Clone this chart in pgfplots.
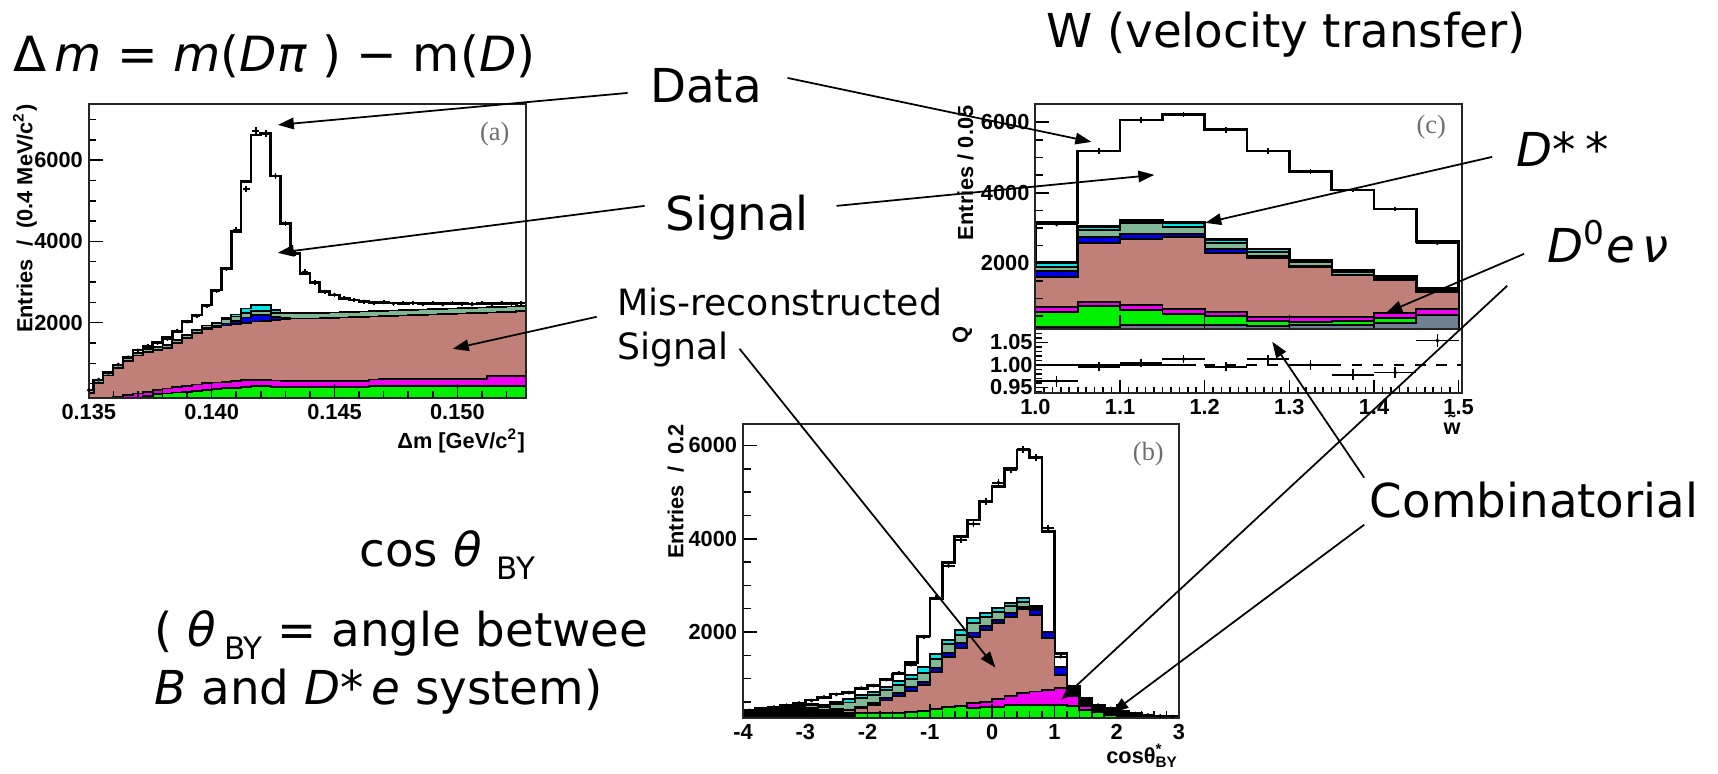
\documentclass[border=0pt]{standalone}
\usepackage{fontspec}
\setmainfont{DejaVu Sans}
\newfontfamily\rootfont{Liberation Sans}
\newfontfamily\rootserif{Liberation Serif}
\usepackage{pgfplots}
\pgfplotsset{compat=1.18}
\usepackage{pgfplotstable}
\usetikzlibrary{arrows.meta}

\definecolor{cbrown}{RGB}{192,128,120}
\definecolor{cgreen}{RGB}{0,240,0}
\definecolor{cmag}{RGB}{240,0,240}
\definecolor{cblue}{RGB}{0,0,230}
\definecolor{ccyan}{RGB}{0,230,230}
\definecolor{csea}{RGB}{128,184,150}
\definecolor{cslate}{RGB}{112,128,144}
\definecolor{clab}{RGB}{110,110,110}

\newcommand\anno{\fontsize{13.3}{16}\selectfont}
\newcommand\annob{\fontsize{13.8}{16}\selectfont}
\newcommand\annos{\fontsize{10.3}{12}\selectfont}
\newcommand\rt{\rootfont\bfseries\fontsize{6.2}{7.5}\selectfont}

% panel (a): x in units of 0.001 GeV/c^2, left bin edges
\pgfplotstableread{
x t c s bl b m g d
134.8 344 344 344 274 274 0 0 340
135.2 590 590 590 520 520 0 0 600
135.6 771 771 771 701 701 0 0 760
136.0 959 950 950 880 880 170 0 970
136.4 1140 1120 1120 1050 1050 220 0 1150
136.8 1328 1260 1260 1190 1190 260 150 1320
137.2 1410 1350 1350 1280 1280 300 200 1430
137.6 1509 1400 1400 1330 1330 340 240 1500
138.0 1640 1451 1451 1381 1381 380 260 1600
138.4 1779 1574 1574 1504 1504 420 280 1800
138.8 2025 1697 1697 1627 1627 450 300 2025
139.2 2189 1820 1820 1750 1750 480 320 2165
139.6 2435 1930 1930 1860 1840 510 350 2410
140.0 2804 1990 1990 1920 1890 530 370 2780
140.4 3337 2110 2080 1980 1930 550 385 3321
140.8 4239 2200 2150 2050 1970 570 400 4280
141.2 5469 2350 2230 2130 2000 585 420 5281
141.6 6617 2430 2280 2180 2030 590 440 6724
142.0 6658 2440 2290 2190 2050 590 440 6658
142.4 5609 2320 2240 2140 2070 580 420 5609
142.8 4444 2250 2240 2110 2090 570 410 4444
143.2 3706 2230 2230 2100 2100 570 410 3706
143.6 3214 2230 2230 2100 2100 570 410 3256
144.0 2985 2230 2230 2100 2100 570 410 2990
144.4 2763 2240 2240 2110 2110 570 410 2760
144.8 2681 2250 2250 2120 2120 570 410 2690
145.2 2599 2260 2260 2130 2130 570 410 2610
145.6 2558 2268 2268 2138 2138 570 410 2560
146.0 2517 2276 2276 2146 2146 570 410 2520
146.4 2495 2284 2284 2154 2154 600 439 2480
146.8 2490 2292 2292 2162 2162 623 439 2500
147.2 2480 2300 2300 2170 2170 623 439 2470
147.6 2475 2308 2308 2178 2178 623 439 2480
148.0 2480 2316 2316 2186 2186 623 439 2490
148.4 2470 2324 2324 2194 2194 623 439 2460
148.8 2470 2332 2332 2202 2202 623 439 2480
149.2 2465 2340 2340 2210 2210 623 439 2450
149.6 2470 2348 2348 2218 2218 623 439 2480
150.0 2465 2356 2356 2226 2226 623 439 2470
150.4 2460 2364 2364 2234 2234 623 439 2450
150.8 2465 2372 2372 2242 2242 623 439 2480
151.2 2470 2380 2380 2250 2250 689 439 2460
151.6 2470 2390 2390 2260 2260 689 439 2490
152.0 2475 2400 2400 2270 2270 689 439 2470
152.4 2480 2410 2410 2280 2280 689 439 2480
152.8 2480 2410 2410 2280 2280 689 439 0
}\tabA

% panel (b): cos theta_BY, left bin edges
\pgfplotstableread{
x t c s bl b k m g d
-4.0 313 300 300 290 290 290 0 0 320
-3.8 355 345 340 320 320 320 0 0 350
-3.6 384 370 365 340 340 340 0 0 390
-3.4 434 405 395 360 360 360 0 0 430
-3.2 470 425 410 370 370 370 0 0 480
-3.0 541 450 430 375 370 370 0 0 530
-2.8 598 435 400 340 330 313 0 0 610
-2.6 670 506 450 350 340 313 0 0 660
-2.4 699 557 490 340 320 257 150 150 700
-2.2 793 650 579 400 358 257 257 257 800
-2.0 864 721 650 486 436 257 257 257 850
-1.8 986 828 757 579 529 257 257 257 980
-1.6 1100 957 864 686 629 271 271 271 1120
-1.4 1343 1079 986 828 743 293 293 293 1300
-1.2 1915 1243 1115 936 864 314 314 314 1900
-1.0 2722 1529 1415 1222 1150 343 343 343 2740
-0.8 3494 1829 1743 1543 1458 386 386 386 3422
-0.6 4044 2043 1936 1772 1651 415 415 415 3969
-0.4 4402 2300 2200 1987 1901 486 486 365 4316
-0.2 4794 2415 2329 2129 2043 507 507 386 4795
0.0 5116 2508 2436 2257 2187 557 557 400 5202
0.2 5510 2629 2558 2415 2329 629 629 436 5474
0.4 5902 2722 2650 2543 2486 686 686 436 5917
0.6 5745 2558 2520 2472 2365 722 722 436 5745
0.8 4151 2008 2000 1994 1865 757 757 436 4223
1.0 1544 1258 1250 1243 1079 793 793 436 1471
1.2 830 830 830 830 830 830 629 415 800
1.4 579 579 579 579 579 579 415 329 560
1.6 436 436 436 436 436 436 293 293 430
1.8 364 364 364 364 364 364 221 221 360
2.0 292 292 292 292 292 292 186 186 290
2.2 257 257 257 257 257 257 0 0 250
2.4 221 221 221 221 221 221 0 0 220
2.6 200 200 200 200 200 200 0 0 200
2.8 190 190 190 190 190 190 0 0 185
3.0 190 190 190 190 190 190 0 0 0
}\tabB

% panel (c): w, left bin edges
\pgfplotstableread{
x t c s bl b m g k d q qe
1.00 3150 2030 1905 1780 1620 769 627 184 3100 0.964 0.012
1.05 5186 3048 2935 2746 2585 912 789 184 5186 0.996 0.010
1.10 6066 3209 3133 2832 2680 817 675 250 6066 1.004 0.009
1.15 6226 3152 3040 2832 2756 694 562 250 6226 1.013 0.009
1.20 5801 2680 2567 2396 2283 627 505 250 5780 0.996 0.010
1.25 5186 2406 2330 2200 2141 486 372 220 5186 1.013 0.010
1.30 4600 2094 2047 1920 1905 486 345 250 4600 1.000 0.011
1.35 4080 1811 1760 1680 1669 486 363 250 4080 0.978 0.012
1.40 3541 1620 1590 1540 1527 590 440 315 3541 0.983 0.013
1.45 2614 1300 1260 1210 1196 695 533 533 2570 1.054 0.015
1.50 2614 1300 1260 1210 1196 695 533 533 0 1.0 0.0
}\tabC

\pgfplotsset{
  rootax/.style={scale only axis, axis on top, tick align=inside, tick pos=left,
    axis line style={line width=0.6pt, black!85},
    tick style={line width=0.45pt, black},
    major tick length=1.4mm, minor tick length=0.75mm,
    ticklabel style={font=\rt, inner sep=1.5pt}},
  rhist/.style={const plot mark left, draw=black, line width=0.5pt},
  rdata/.style={black, only marks, mark=*, mark size=0.3pt,
    error bars/x dir=both, error bars/y dir=both, error bars/y explicit,
    error bars/error mark=none,
    error bars/error bar style={line width=0.5pt}},
}

\begin{document}
\begin{tikzpicture}
\useasboundingbox (0,0) rectangle (17.18,7.74);

%================ panel (a)
\begin{axis}[rootax, at={(0.888cm,3.757cm)}, anchor=south west,
  width=4.374cm, height=2.943cm,
  xmin=135, xmax=152.8, ymin=140, ymax=7380,
  xtick={135,140,145,150}, xticklabels={0.135,0.140,0.145,0.150},
  minor xtick={136,137,138,139,141,142,143,144,146,147,148,149,151,152},
  ytick={2000,4000,6000}, yticklabels={2000,4000,6000},
  minor ytick={500,1000,1500,2500,3000,3500,4500,5000,5500,6500,7000}]
\addplot[rhist, fill=white, line width=0.75pt] table[x=x,y=t]{\tabA} \closedcycle;
\addplot[rhist, fill=ccyan] table[x=x,y=c]{\tabA} \closedcycle;
\addplot[rhist, fill=csea] table[x=x,y=s]{\tabA} \closedcycle;
\addplot[rhist, fill=cblue] table[x=x,y=bl]{\tabA} \closedcycle;
\addplot[rhist, fill=cbrown] table[x=x,y=b]{\tabA} \closedcycle;
\addplot[rhist, fill=cmag] table[x=x,y=m]{\tabA} \closedcycle;
\addplot[rhist, fill=cgreen] table[x=x,y=g]{\tabA} \closedcycle;
\addplot[rdata, error bars/x fixed=0.14, skip coords between index={45}{46}]
  table[x expr=\thisrow{x}+0.2, y=d, y error expr={sqrt(\thisrow{d})}]{\tabA};
\end{axis}

%================ panel (c) main
\begin{axis}[rootax, at={(10.354cm,4.447cm)}, anchor=south west,
  width=4.266cm, height=2.253cm,
  xmin=1, xmax=1.504, ymin=128, ymax=6519,
  xtick={1.1,1.2,1.3,1.4}, xticklabels={},
  ytick={2000,4000,6000}, yticklabels={2000,4000,6000},
  minor ytick={500,1000,1500,2500,3000,3500,4500,5000,5500,6500}]
\addplot[rhist, fill=white, line width=0.75pt] table[x=x,y=t]{\tabC} \closedcycle;
\addplot[rhist, fill=ccyan, line width=0.8pt] table[x=x,y=c]{\tabC} \closedcycle;
\addplot[rhist, fill=csea] table[x=x,y=s]{\tabC} \closedcycle;
\addplot[rhist, fill=cblue] table[x=x,y=bl]{\tabC} \closedcycle;
\addplot[rhist, fill=cbrown] table[x=x,y=b]{\tabC} \closedcycle;
\addplot[rhist, fill=cmag] table[x=x,y=m]{\tabC} \closedcycle;
\addplot[rhist, fill=cgreen] table[x=x,y=g]{\tabC} \closedcycle;
\addplot[rhist, fill=cslate] table[x=x,y=k]{\tabC} \closedcycle;
\addplot[rdata, error bars/x fixed=0.025, skip coords between index={10}{11}]
  table[x expr=\thisrow{x}+0.025, y=d, y error expr={sqrt(\thisrow{d})}]{\tabC};
\end{axis}

%================ panel (c) ratio
\begin{axis}[rootax, at={(10.354cm,3.807cm)}, anchor=south west,
  width=4.266cm, height=0.64cm,
  xmin=1, xmax=1.504, ymin=0.937, ymax=1.079,
  major tick length=1.3mm, minor tick length=0.65mm,
  xtick={1.0,1.1,1.2,1.3,1.4,1.5}, xticklabels={1.0,1.1,1.2,1.3,1.4,1.5},
  minor xtick={1.01,1.02,...,1.495},
  ytick={0.95,1.0,1.05}, yticklabels={0.95,1.00,1.05},
  yticklabel style={inner sep=0.6pt},
  minor ytick={0.94,0.96,0.97,0.98,0.99,1.01,1.02,1.03,1.04,1.06,1.07}]
\addplot[black, dashed, line width=0.45pt] coordinates {(1,1) (1.504,1)};
\addplot[black, line width=0.5pt] coordinates {(1,1) (1.19,1)};
\addplot[rdata, error bars/x fixed=0.025, skip coords between index={10}{11}]
  table[x expr=\thisrow{x}+0.025, y=q, y error=qe]{\tabC};
\end{axis}

%================ panel (b)
\begin{axis}[rootax, at={(7.43cm,0.557cm)}, anchor=south west,
  width=4.36cm, height=2.943cm,
  xmin=-4, xmax=3, ymin=150, ymax=6460,
  xtick={-4,-3,-2,-1,0,1,2,3}, xticklabels={-4,-3,-2,-1,0,1,2,3},
  minor xtick={-3.8,-3.6,...,2.9},
  ytick={2000,4000,6000}, yticklabels={2000,4000,6000},
  minor ytick={500,1000,1500,2500,3000,3500,4500,5000,5500}]
\addplot[rhist, fill=white, line width=0.75pt] table[x=x,y=t]{\tabB} \closedcycle;
\addplot[rhist, fill=ccyan] table[x=x,y=c]{\tabB} \closedcycle;
\addplot[rhist, fill=csea] table[x=x,y=s]{\tabB} \closedcycle;
\addplot[rhist, fill=cblue] table[x=x,y=bl]{\tabB} \closedcycle;
\addplot[rhist, fill=cbrown] table[x=x,y=b]{\tabB} \closedcycle;
\addplot[rhist, fill=black] table[x=x,y=k]{\tabB} \closedcycle;
\addplot[rhist, fill=cmag] table[x=x,y=m]{\tabB} \closedcycle;
\addplot[rhist, fill=cgreen] table[x=x,y=g]{\tabB} \closedcycle;
\addplot[rdata, error bars/x fixed=0.1, skip coords between index={35}{36}]
  table[x expr=\thisrow{x}+0.1, y=d, y error expr={sqrt(\thisrow{d})}]{\tabB};
\end{axis}

%================ labels and annotations (pixel coordinates, y downwards)
\begin{scope}[x=0.01cm, y=-0.01cm, yshift=7.74cm]
  % ROOT axis titles
  \node[rotate=90, anchor=east, inner sep=0, font=\rt] at (25,104) {Entries\ \ /\ \ (0.4 MeV/c\textsuperscript{2})};
  \node[anchor=base east, inner sep=0, font=\rt] at (526,449) {Δm [GeV/c\textsuperscript{2}]};
  \node[rotate=90, anchor=east, inner sep=0, font=\rt] at (966,105) {Entries / 0.05};
  \node[rotate=90, anchor=center, inner sep=0, font=\rt] at (963,335) {Q};
  \node[anchor=base east, inner sep=0, font=\rt] at (1462,435) {\~{w}};
  \node[rotate=90, anchor=east, inner sep=0, font=\rt] at (676,424) {Entries\ \ /\ \ 0.2};
  \node[anchor=base east, inner sep=0, font=\rt] at (1180,764) {cosθ\rlap{\textsuperscript{*}}\textsubscript{BY}};
  % panel tags
  \node[text=clab, font=\rootserif\fontsize{7.5}{9}\selectfont] at (495,134) {(a)};
  \node[text=clab, font=\rootserif\fontsize{7.5}{9}\selectfont] at (1432,127) {(c)};
  \node[text=clab, font=\rootserif\fontsize{7.5}{9}\selectfont] at (1149,454) {(b)};

  % annotation texts
  \node[anchor=base west, inner sep=0, font=\annob] at (13,72) {Δ\,\textit{m} = \textit{m}(\textit{Dπ}\ ) − m(\textit{D})};
  \node[anchor=base west, inner sep=0, font=\anno] at (1046,48) {W (velocity transfer)};
  \node[anchor=base west, inner sep=0, font=\anno] at (650,103) {Data};
  \node[anchor=base west, inner sep=0, font=\anno] at (665,231) {Signal};
  \node[anchor=base west, inner sep=0, font=\annos] at (617,316) {Mis-reconstructed};
  \node[anchor=base west, inner sep=0, font=\annos] at (617,360) {Signal};
  \node[anchor=base west, inner sep=0, font=\anno] at (1517,167) {\textit{D}*\hspace{0.2em}*};
  \node[anchor=base west, inner sep=0, font=\anno] at (1548,263) {\textit{D}\textsuperscript{0}\textit{e\,ν}};
  \node[anchor=base west, inner sep=0, font=\anno] at (1370,518) {Combinatorial};
  \node[anchor=base west, inner sep=0, font=\anno] at (359,567) {cos \textit{θ} \raisebox{-3.7pt}{\fontsize{8.8}{10}\selectfont BY}};
  \node[anchor=base west, inner sep=0, font=\anno] at (154,647) {( \textit{θ}\,\raisebox{-3.7pt}{\fontsize{8.8}{10}\selectfont BY} = angle betwee};
  \node[anchor=base west, inner sep=0, font=\anno] at (154,705) {\textit{B} and \textit{D}*\,\textit{e} system)};

  % arrows
  \tikzset{arr/.style={line width=0.5pt, -{Triangle[length=1.6mm, width=1.15mm]}}}
  \draw[arr] (628,93) -- (278,125);
  \draw[arr] (788,78) -- (1092,142);
  \draw[arr] (645,206) -- (278,253);
  \draw[arr] (837,206) -- (1155,175);
  \draw[arr] (597,317) -- (453,349);
  \draw[arr] (740,349) -- (996,668);
  \draw[arr] (1493,157) -- (1206,223);
  \draw[arr] (1525,254) -- (1387,313);
  \draw[arr] (1508,286) -- (1062,700);
  \draw[arr] (1365,478) -- (1273,342);
  \draw[arr] (1365,525) -- (1113,713);
\end{scope}
\end{tikzpicture}
\end{document}
